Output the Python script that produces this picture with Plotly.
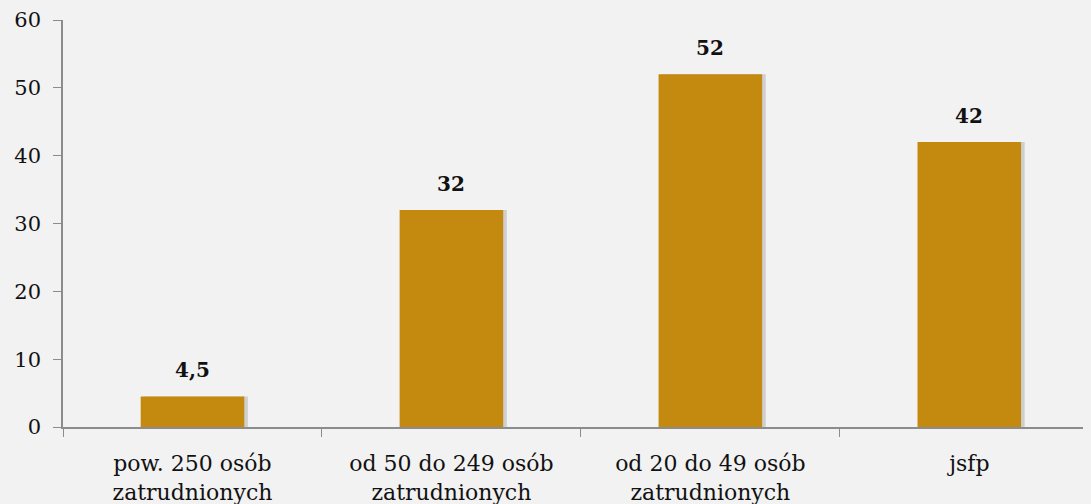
import plotly.graph_objects as go

categories = ["pow. 250 osób<br>zatrudnionych", "od 50 do 249 osób<br>zatrudnionych",
              "od 20 do 49 osób<br>zatrudnionych", "jsfp"]
values = [4.5, 32, 52, 42]
labels = ["4,5", "32", "52", "42"]
y_ticks = [0, 10, 20, 30, 40, 50, 60]

BAR = "#C4890F"
BG = "#F2F2F2"
FONT = "DejaVu Serif"

fig = go.Figure()
# soft shadow behind bars
fig.add_trace(go.Bar(
    x=categories, y=values, width=0.4, offset=-0.2 + 0.014,
    marker=dict(color="rgba(0,0,0,0.14)", line=dict(width=0)),
    hoverinfo="skip", showlegend=False,
))
fig.add_trace(go.Bar(
    x=categories, y=values, width=0.4, offset=-0.2,
    marker=dict(color=BAR, line=dict(width=0)),
    hoverinfo="skip", showlegend=False,
))
for c, v, t in zip(categories, values, labels):
    fig.add_annotation(
        x=c, y=v, text=t, showarrow=False, yanchor="bottom", yshift=12,
        font=dict(family=FONT, size=20, color="#111111", weight="bold"),
    )

fig.update_layout(
    width=1083, height=496,
    margin=dict(l=55, r=0, t=12, b=77, autoexpand=False),
    paper_bgcolor=BG, plot_bgcolor=BG,
    barmode="overlay",
    font=dict(family=FONT, size=22, color="#111111"),
)
fig.update_xaxes(
    type="category", range=[-0.5, 3.47],
    showline=True, linecolor="#8C8C8C", linewidth=1.5,
    ticks="outside", tickson="boundaries", ticklen=8, tickcolor="#8C8C8C",
    showgrid=False, tickfont=dict(family=FONT, size=22), automargin=False,
    ticklabelstandoff=16,
)
fig.update_yaxes(
    range=[0, 60], tickvals=y_ticks,
    showline=True, linecolor="#8C8C8C", linewidth=1.5,
    ticks="outside", ticklen=8, tickcolor="#8C8C8C",
    showgrid=False, zeroline=False, tickfont=dict(family=FONT, size=21), automargin=False,
    ticklabelstandoff=8,
)

fig.write_html("out.html", post_script="document.body.style.backgroundColor='%s';" % BG)
